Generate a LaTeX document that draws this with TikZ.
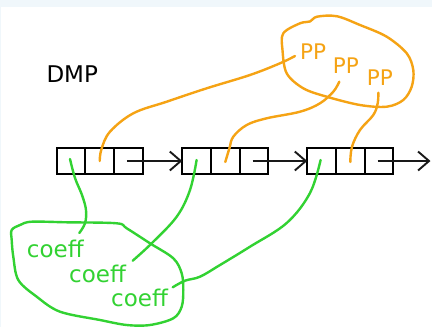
\documentclass[tikz,border=0pt]{standalone}
\usepackage{fontspec}
\setmainfont{DejaVu Sans}
\usetikzlibrary{arrows.meta}
\definecolor{inkorange}{RGB}{245,163,20}
\definecolor{inkgreen}{RGB}{50,210,50}
\definecolor{stripblue}{RGB}{240,247,251}
\definecolor{arrowgray}{RGB}{25,25,25}
\tikzset{
  cell/.style={draw=black, line width=2.1pt, minimum width=28.7pt, minimum height=26.7pt, inner sep=0pt, outer sep=0pt},
  nextptr/.style={draw=arrowgray, line width=1.9pt, -{Straight Barb[length=11pt,width=19pt,line width=1.9pt]}},
  label/.style={inner sep=0pt, anchor=base west},
  pplabel/.style={label, text=inkorange, font=\fontsize{21.5}{24}\selectfont},
  coefflabel/.style={label, text=inkgreen, font=\fontsize{23}{26}\selectfont},
  orangeink/.style={draw=inkorange, line width=2.4pt, line cap=round, line join=round},
  greenink/.style={draw=inkgreen, line width=2.4pt, line cap=round, line join=round}
}
\begin{document}
\begin{tikzpicture}[x=1pt,y=-1pt]
  % page and thin top/left band
  \fill[white] (0,0) rectangle (432,327);
  \fill[stripblue] (0,0) rectangle (432,6.7);
  \fill[stripblue] (0,0) rectangle (1.3,327);
  \useasboundingbox (0,0) rectangle (432,327);

  % title
  \node[label, font=\fontsize{23}{26}\selectfont] (title) at (46.3,82.7) {DMP};

  % three list nodes, three cells each
  \foreach \k/\x in {1/71.0, 2/196.6, 3/321.6} {
    \node[cell] (n\k a) at (\x,161) {};
    \node[cell, anchor=west] (n\k b) at (n\k a.east) {};
    \node[cell, anchor=west] (n\k c) at (n\k b.east) {};
  }

  % next pointers
  \coordinate (tail) at (430.5,161);
  \draw[nextptr] ([xshift=-1.5pt]n1c.center) -- (n2a.west);
  \draw[nextptr] ([xshift=-1.5pt]n2c.center) -- (n3a.west);
  \draw[nextptr] ([xshift=-1.5pt]n3c.center) -- (tail);

  % power products
  \node[pplabel] (pp1) at (300,59.3) {PP};
  \node[pplabel] (pp2) at (332.7,73.3) {PP};
  \node[pplabel] (pp3) at (366.7,85) {PP};

  % coefficients
  \node[coefflabel] (c1) at (26.7,257.7) {coeff};
  \node[coefflabel] (c2) at (69,282.7) {coeff};
  \node[coefflabel] (c3) at (111,306.7) {coeff};

  % ring around the power products
  \draw[orangeink] plot[smooth cycle, tension=0.55] coordinates {
    (283.3,33.3) (300,23.3) (310,21.5) (317,16.7) (336.7,16.2) (360,25)
    (386.7,36.7) (406.7,53.3) (413.3,70) (411.7,86.7) (403.3,100)
    (386.7,106.7) (360,105) (326.7,96.7) (303.3,88.3) (286.7,73.3) (282.5,50)};

  % ring around the coefficients
  \draw[greenink] plot[smooth cycle, tension=0.55] coordinates {
    (11.7,230) (20,225) (31.7,221.7) (66.7,222.3) (116.7,223.3) (126.7,228.3)
    (150,243.3) (173.3,258.3) (181.7,273.3) (183.3,290) (181.7,306.7)
    (173.3,318.3) (150,325) (126.7,325) (100,320) (60,311.7) (36.7,296.7)
    (18.3,280) (13.3,256.7) (11.7,240)};

  % cell -> power product links
  \coordinate (pp1end) at (295,56);
  \coordinate (pp2end) at (339.3,81.7);
  \coordinate (pp3end) at (378.3,92.7);
  \draw[orangeink] plot[smooth, tension=0.6] coordinates {
    (n1b.center) (101.5,149) (110,131.7) (133.3,113.3) (166.7,101.7)
    (206.7,88.3) (250,75) (280,63.3) (pp1end)};
  \draw[orangeink] plot[smooth, tension=0.6] coordinates {
    ([yshift=-1pt]n2b.center) (229.5,148) (233.3,136.7) (246.7,125) (266.7,118.3)
    (300,111.7) (320,103.3) (333.3,91.7) (pp2end)};
  \draw[orangeink] plot[smooth, tension=0.6] coordinates {
    ([yshift=-1pt]n3b.center) (352,146.7) (360,130) (373.3,115) (377.7,103.3) (pp3end)};

  % cell -> coefficient links
  \coordinate (c1end) at (79.3,233);
  \coordinate (c2end) at (132.7,260.7);
  \coordinate (c3end) at (172.7,287.3);
  \draw[greenink] plot[smooth, tension=0.6] coordinates {
    ([shift={(-1pt,2pt)}]n1a.center) (75,178) (82,195) (86,210) (85,223.3) (c1end)};
  \draw[greenink] plot[smooth, tension=0.6] coordinates {
    ([yshift=1pt]n2a.center) (190,190) (176.7,216.7) (151.7,243.3) (c2end)};
  \draw[greenink] plot[smooth, tension=0.6] coordinates {
    ([shift={(-1pt,1pt)}]n3a.center) (310,193) (286.7,223) (250,246.7) (220,265)
    (200,276.7) (185,280.7) (c3end)};
\end{tikzpicture}
\end{document}
